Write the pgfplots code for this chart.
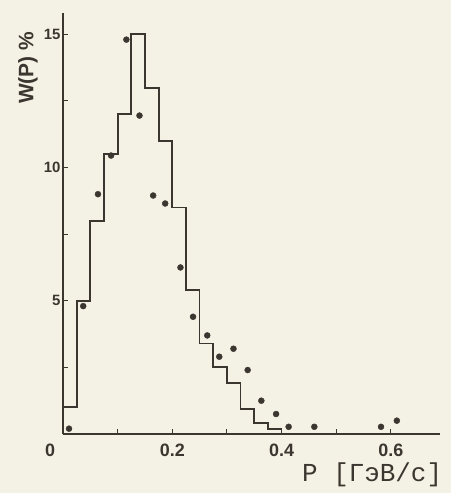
\documentclass[border=0pt]{standalone}
\usepackage{pgfplots}
\pgfplotsset{compat=1.18}
\usepackage{fontspec}
\setmainfont{Liberation Sans}
\newfontfamily\monofont{Liberation Mono}
\definecolor{paper}{HTML}{F4F2E4}
\definecolor{ink}{HTML}{3C3631}

\begin{document}
\begin{tikzpicture}
\fill[paper] (0,0) rectangle (451bp,493bp);
\useasboundingbox (0,0) rectangle (451bp,493bp);
\begin{axis}[
  at={(63bp,59bp)}, anchor=south west,
  scale only axis, width=377bp, height=421bp,
  xmin=0, xmax=0.69, ymin=0, ymax=15.8,
  axis x line=bottom, axis y line=left,
  axis line style={-, ink, line width=1.6bp},
  tick align=inside,
  major tick length=5bp, minor tick length=5bp,
  tick style={ink, line width=1.1bp},
  xtick={0,0.2,0.4,0.6},
  xticklabels={\makebox[0pt]{\hspace*{-26bp}0},0.2,0.4,0.6},
  minor xtick={0.1,0.3,0.5},
  ytick={5,10,15},
  yticklabels={5,10,15},
  minor ytick={2.5,7.5,12.5},
  x tick label style={font=\fontsize{18}{18}\selectfont\bfseries, text=ink, yshift=-6bp},
  y tick label style={font=\fontsize{15}{15}\selectfont\bfseries, text=ink, xshift=1bp},
  xlabel={P [ГэВ/с]},
  xlabel style={at={(rel axis cs:0.82,-0.097)}, anchor=center,
    font=\monofont\fontsize{26}{26}\selectfont, text=ink},
  ylabel={W(P) \%},
  ylabel style={at={(rel axis cs:-0.093,0.87)}, anchor=center,
    font=\fontsize{21}{21}\selectfont\bfseries, text=ink},
  clip=false,
]
% histogram, bins of 0.025 GeV/c
\addplot[const plot, ink, line width=1.8bp] coordinates {
  (0,1.0) (0.025,5.0) (0.05,8.0) (0.075,10.5) (0.1,12.0)
  (0.125,15.0) (0.15,13.0) (0.175,11.0) (0.2,8.5) (0.225,5.4)
  (0.25,3.4) (0.275,2.5) (0.3,1.9) (0.325,0.95) (0.35,0.4)
  (0.375,0.2) (0.4,0)
};
% points
\addplot[only marks, mark=*, mark size=3bp, ink] coordinates {
  (0.011,0.2) (0.037,4.8) (0.064,9.0) (0.088,10.45) (0.116,14.8)
  (0.140,11.95) (0.165,8.95) (0.187,8.65) (0.215,6.25) (0.238,4.4)
  (0.264,3.7) (0.286,2.9) (0.312,3.2) (0.338,2.4) (0.363,1.25)
  (0.390,0.75) (0.413,0.27) (0.460,0.27) (0.582,0.27) (0.611,0.5)
};
\end{axis}
\end{tikzpicture}
\end{document}
